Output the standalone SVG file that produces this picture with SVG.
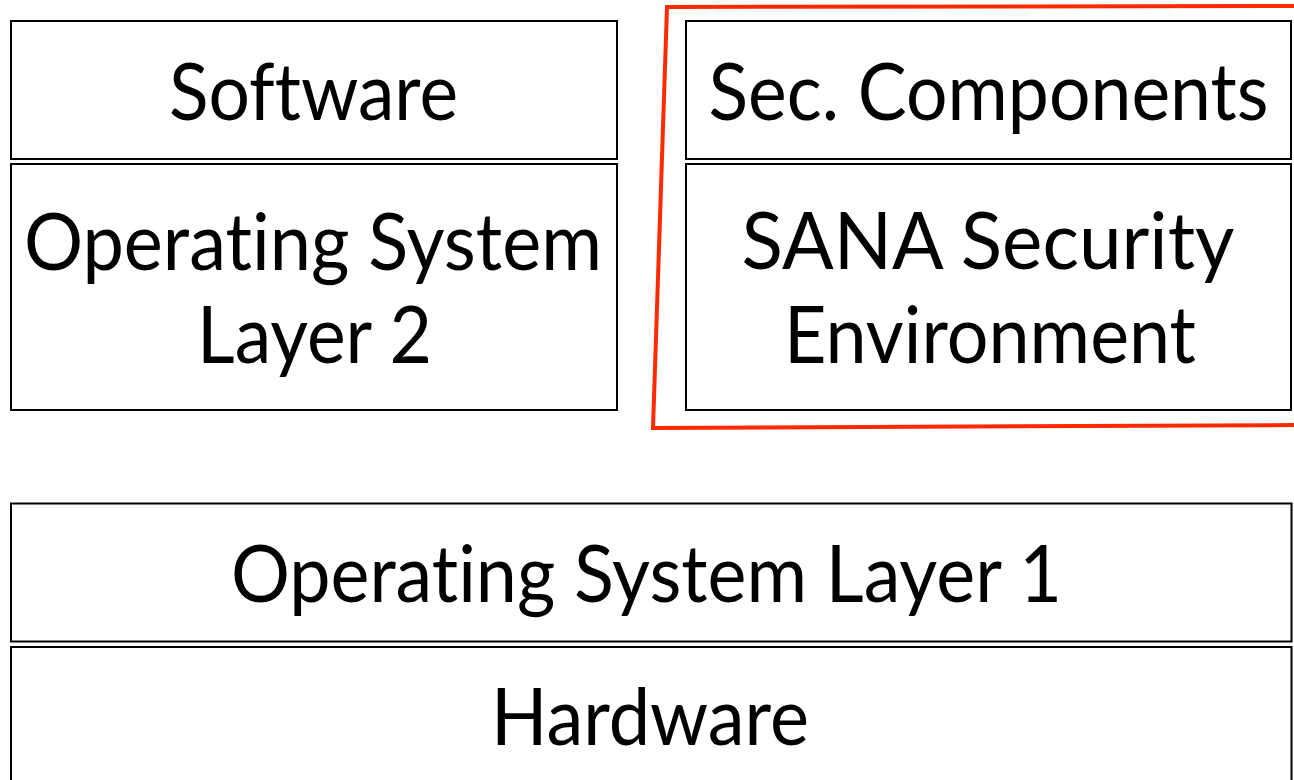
<svg xmlns="http://www.w3.org/2000/svg" width="1294" height="780" viewBox="0 0 1294 780">
  <style>
    .box { fill: #ffffff; stroke: #000000; stroke-width: 2; }
    .lbl { font-family: Lato, "Open Sans", "Noto Sans", sans-serif; font-size: 80px; fill: #000000; text-anchor: middle; font-variant-ligatures: none; font-feature-settings: "liga" 0, "clig" 0; }
    .sec { fill: none; stroke: #ff2a00; stroke-width: 4; stroke-linejoin: miter; }
  </style>
  <rect x="0" y="0" width="1294" height="780" fill="#ffffff"/>
  <g id="software">
    <rect class="box" x="11" y="21" width="606" height="138"/>
    <text class="lbl" x="313.5" y="120" textLength="289" lengthAdjust="spacingAndGlyphs">Software</text>
  </g>
  <g id="os-layer-2">
    <rect class="box" x="11" y="164" width="606" height="246"/>
    <text class="lbl" x="313" y="270" textLength="578" lengthAdjust="spacingAndGlyphs">Operating System</text>
    <text class="lbl" x="314.5" y="363" textLength="235" lengthAdjust="spacingAndGlyphs">Layer 2</text>
  </g>
  <g id="sec-components">
    <rect class="box" x="686" y="21" width="605" height="138"/>
    <text class="lbl" x="988.5" y="120" textLength="560" lengthAdjust="spacingAndGlyphs">Sec. Components</text>
  </g>
  <g id="sana-env">
    <rect class="box" x="686" y="164" width="605" height="246"/>
    <text class="lbl" x="988" y="269" textLength="493" lengthAdjust="spacingAndGlyphs">SANA Security</text>
    <text class="lbl" x="990" y="363" textLength="412" lengthAdjust="spacingAndGlyphs">Environment</text>
  </g>
  <g id="os-layer-1">
    <rect class="box" x="11" y="503.5" width="1280.5" height="138"/>
    <text class="lbl" x="646.5" y="602" textLength="831" lengthAdjust="spacingAndGlyphs">Operating System Layer 1</text>
  </g>
  <g id="hardware">
    <rect class="box" x="11" y="647" width="1280.5" height="140"/>
    <text class="lbl" x="650" y="745" textLength="318" lengthAdjust="spacingAndGlyphs">Hardware</text>
  </g>
  <g id="connectors">
    <path id="security-boundary" class="sec" d="M1300,6 L667,7 L653,428 L1300,425"/>
  </g>
</svg>
